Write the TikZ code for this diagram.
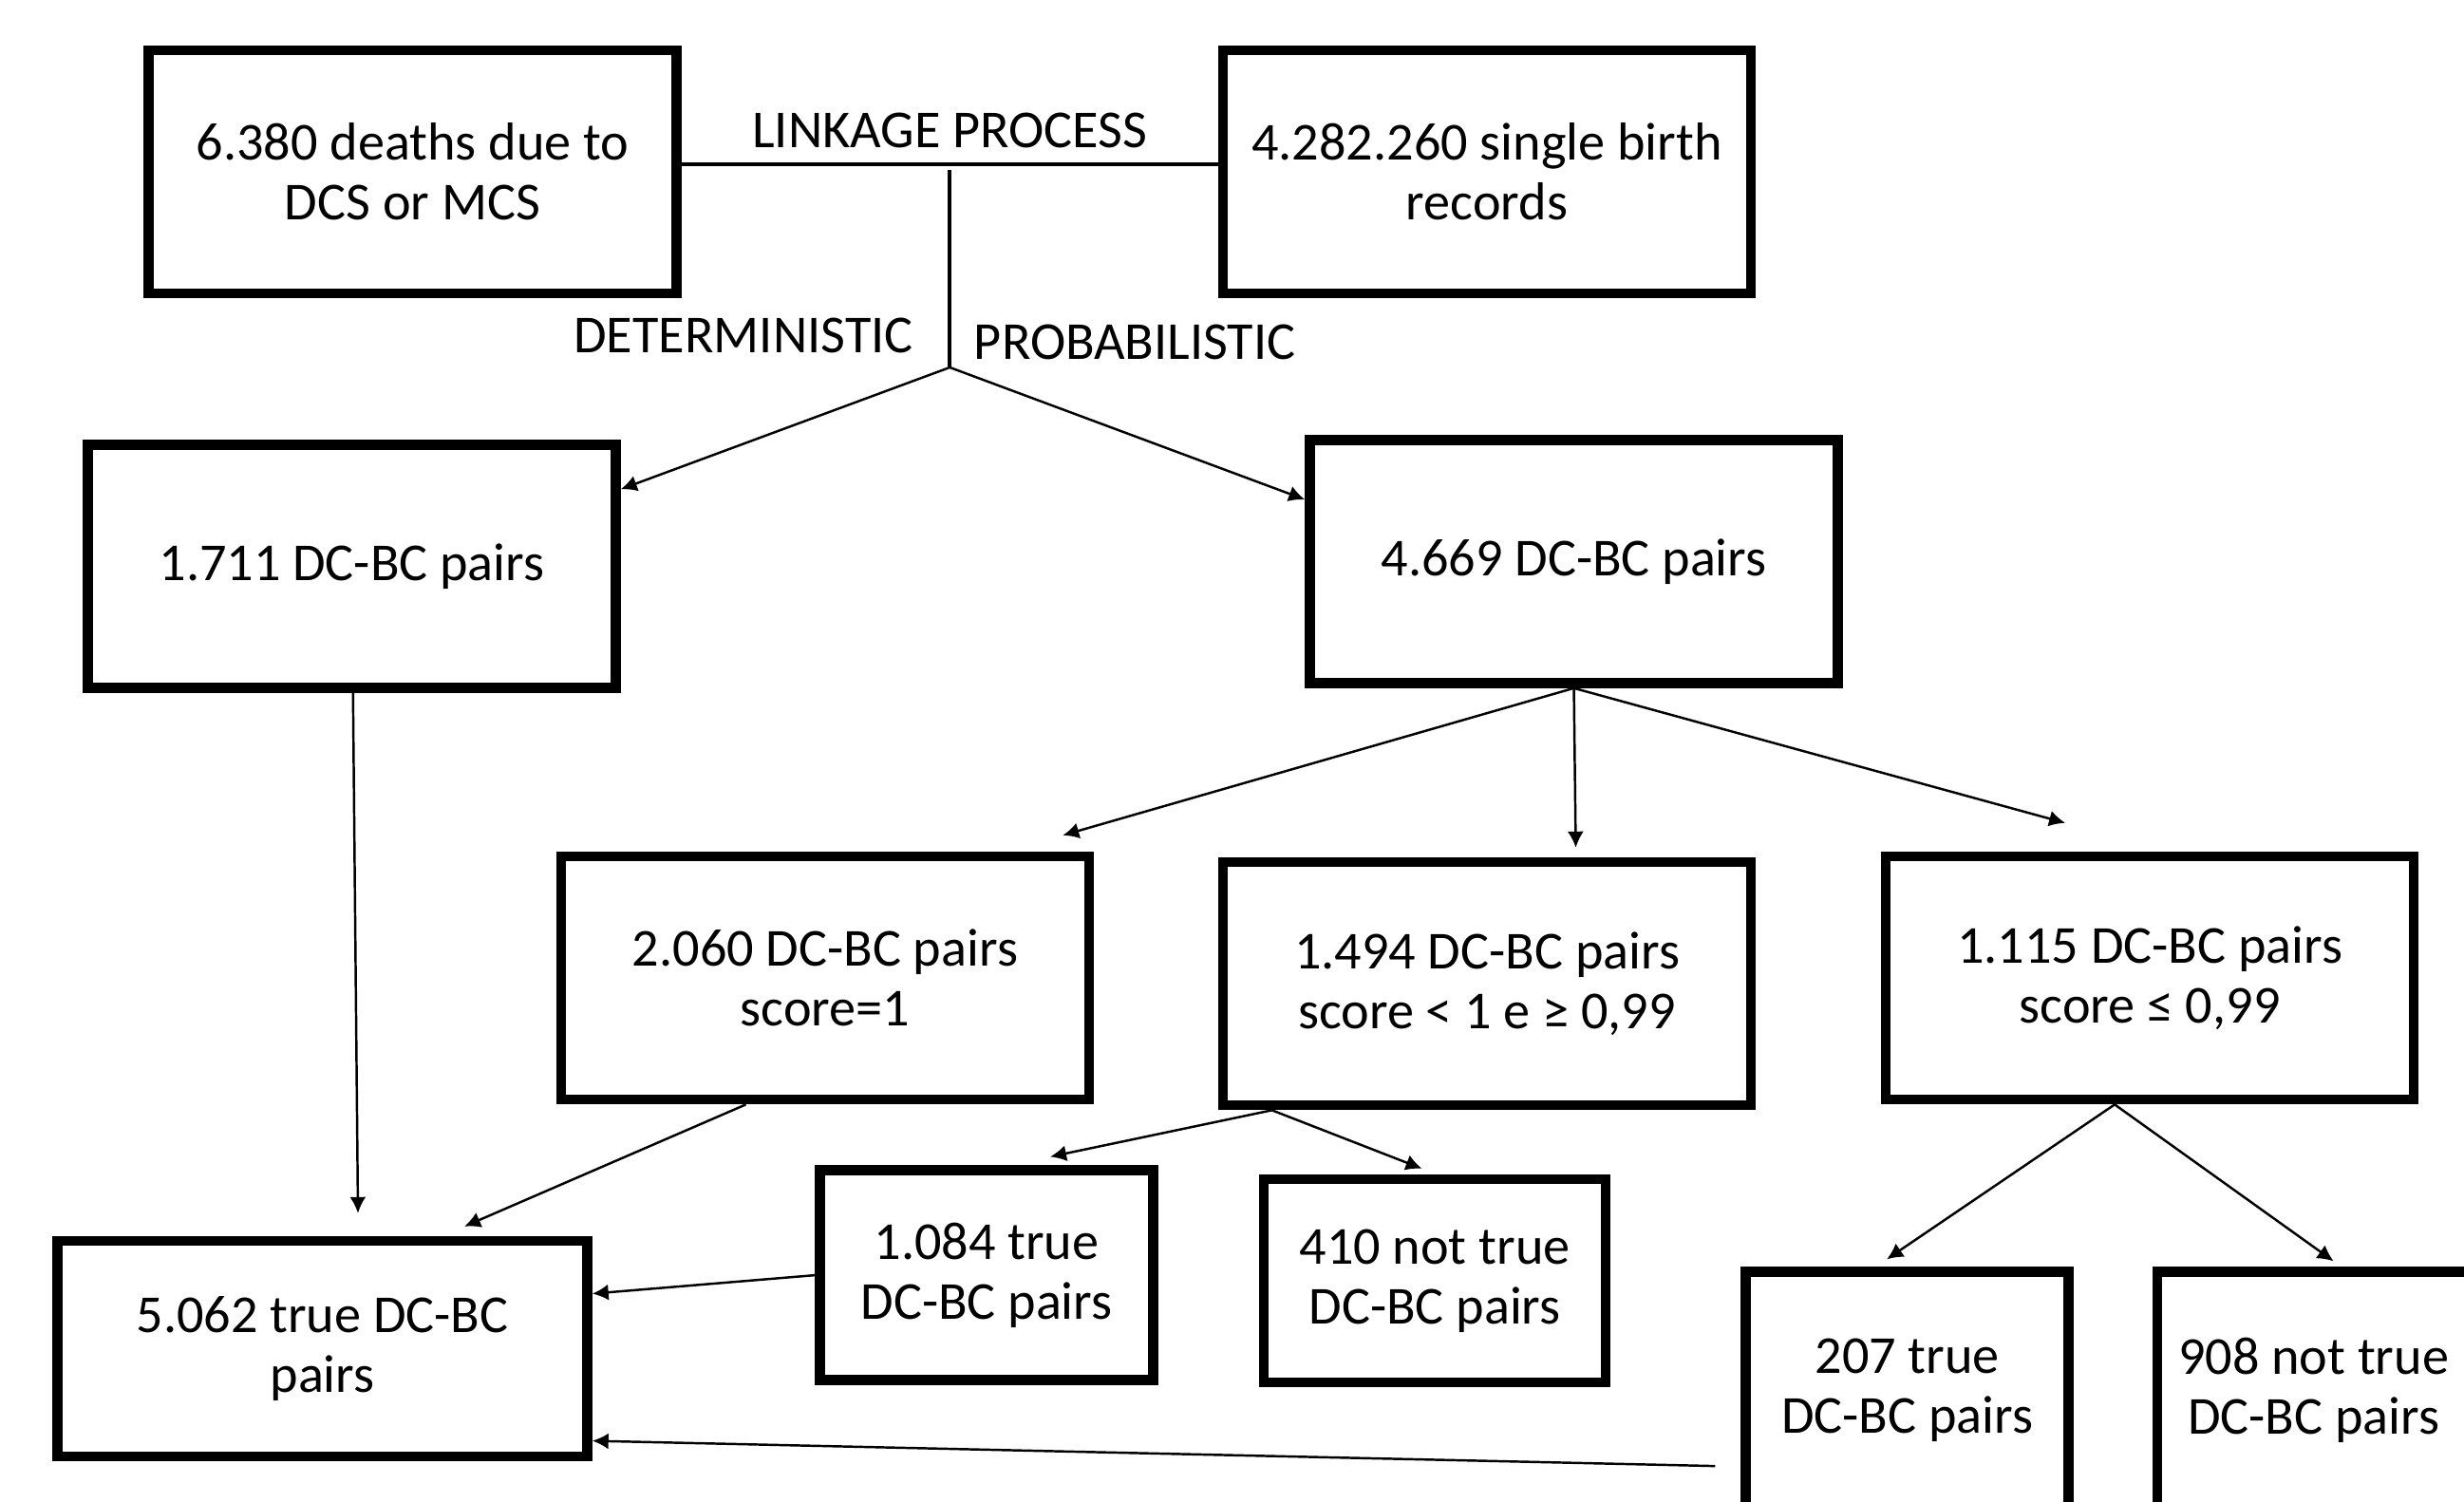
\documentclass[tikz,border=0pt]{standalone}
\usepackage{fontspec}
\setmainfont{Carlito}
\usepackage{tikz}
\usetikzlibrary{arrows.meta,positioning}
\tikzset{
  stage/.style={draw, line width=3pt, align=center, minimum width=5.56cm, minimum height=2.56cm, font=\fontsize{16}{18}\selectfont},
  leaf/.style={stage, minimum width=3.51cm, minimum height=2.21cm},
  tag/.style={inner sep=0pt, font=\fontsize{16}{18}\selectfont},
  arr/.style={-{Latex[length=1.7mm,width=1.7mm]}, line width=0.7pt},
  link/.style={line width=1.1pt}
}
\begin{document}
\begin{tikzpicture}
\useasboundingbox (0,0) rectangle (25.95,15.82);
\clip (0,0) rectangle (25.95,15.82);

\node[stage] (deaths) at (4.345,14.01) {6.380 deaths due to\\DCS or MCS};
\node[stage, right=5.65cm of deaths] (births) {4.282.260 single birth\\records};
\draw[link] ([yshift=0.8mm]deaths.east) -- coordinate (link) ([yshift=0.8mm]births.west);
\node[tag, above=1.6mm of link] (linktag) {LINKAGE PROCESS};
\coordinate[below=2.14cm of link] (split);
\draw[link] ([yshift=-0.6mm]link) -- (split);
\node[tag, above left=1.4mm and 3.8mm of split] (det) {DETERMINISTIC};
\node[tag, above right=0.7mm and 2.5mm of split] (prob) {PROBABILISTIC};

\node[stage, below=1.49cm of deaths, xshift=-6.4mm] (det1711) {1.711 DC-BC pairs};
\node[stage, below=1.44cm of births, xshift=9.15mm] (prob4669) {4.669 DC-BC pairs};
\draw[arr] (split) -- (det1711.16);
\draw[arr] (split) -- (prob4669.167);

\node[stage, below left=1.72cm and 2.22cm of prob4669] (score1) {2.060 DC-BC pairs\\score=1};
\node[stage, below=1.78cm of prob4669, xshift=-9.15mm] (score099) {1.494 DC-BC pairs\\score < 1 e ≥ 0,99};
\node[stage, below right=1.72cm and 4mm of prob4669] (scorelow) {1.115 DC-BC pairs\\score ≤ 0,99};
\draw[arr] (prob4669.south) -- ([shift={(-3.3mm,1.7mm)}]score1.north east);
\draw[arr] (prob4669.south) -- ([shift={(9.35mm,1mm)}]score099.north);
\draw[arr] (prob4669.south) -- ([shift={(-8.9mm,3mm)}]scorelow.north);

\node[stage, below=5.72cm of det1711, xshift=-3.1mm, minimum width=5.58cm, minimum height=2.27cm] (truepairs) {5.062 true DC-BC\\pairs};
\node[leaf, below=6.4mm of score1, xshift=17mm] (true1084) {1.084 true\\DC-BC pairs};
\node[leaf, right=1.06cm of true1084, yshift=-0.6mm, minimum width=3.6cm, minimum height=2.14cm] (false410) {410 not true\\DC-BC pairs};
\node[leaf, below=1.71cm of scorelow, xshift=-25.55mm, minimum width=3.4cm, minimum height=2.49cm] (true207) {207 true\\DC-BC pairs};
\node[leaf, right=8.3mm of true207, minimum width=3.29cm, minimum height=2.49cm] (false908) {908 not true\\DC-BC pairs};

\draw[arr] (det1711) -- ([shift={(3.75mm,2.4mm)}]truepairs.north);
\draw[arr] ([xshift=-8.35mm]score1.south) -- ([shift={(14.95mm,1mm)}]truepairs.north);
\coordinate (fork) at ([xshift=-22.65mm]score099.south);
\draw[arr] (fork) -- ([shift={(6.7mm,0.9mm)}]true1084.north);
\draw[arr] (fork) -- ([shift={(-1.35mm,0.6mm)}]false410.north);
\draw[arr] (true1084.west) -- ([yshift=5.8mm]truepairs.east);
\coordinate (gfork) at ([xshift=-3.7mm]scorelow.south);
\draw[arr] (gfork) -- ([shift={(-2.15mm,0.8mm)}]true207.north);
\draw[arr] (gfork) -- ([shift={(2.1mm,0.6mm)}]false908.north);
\draw[arr] ([shift={(-2.7mm,-8mm)}]true207.west) -- ([yshift=-9.7mm]truepairs.east);
\end{tikzpicture}
\end{document}
